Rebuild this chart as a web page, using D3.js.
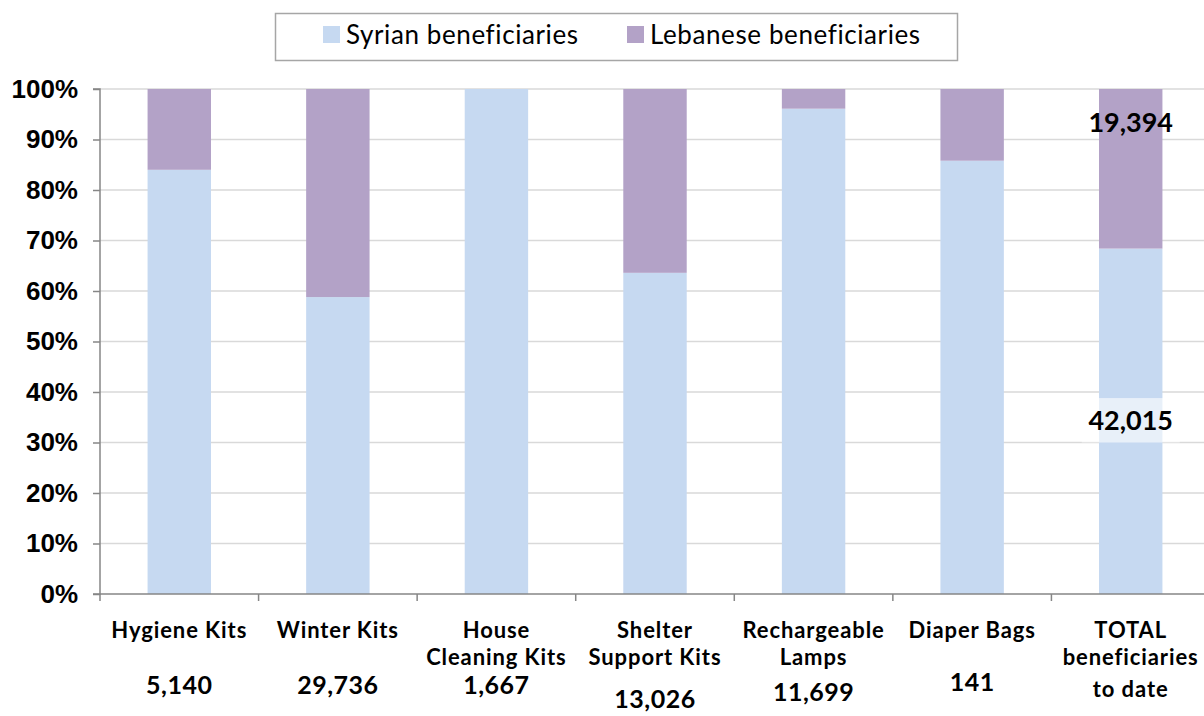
<!DOCTYPE html>
<html>
<head>
<meta charset="utf-8">
<script src="https://cdn.jsdelivr.net/npm/d3@7"></script>
<style>
  body { margin: 0; background: #fff; }
  svg { display: block; }
</style>
</head>
<body>
<script>
// data
let categories = ['Hygiene Kits', 'Winter Kits', 'House Cleaning Kits', 'Shelter Support Kits',
  'Rechargeable Lamps', 'Diaper Bags', 'TOTAL beneficiaries to date'];
let labelLines = [
  ['Hygiene Kits'],
  ['Winter Kits'],
  ['House', 'Cleaning Kits'],
  ['Shelter', 'Support Kits'],
  ['Rechargeable', 'Lamps'],
  ['Diaper Bags'],
  ['TOTAL', 'beneficiaries', 'to date']
];
let totals = ['5,140', '29,736', '1,667', '13,026', '11,699', '141', null];
let syrianShare = [0.84, 0.588, 1.0, 0.636, 0.961, 0.858, 0.684];
let lebaneseShare = syrianShare.map(d => 1 - d);
let totalSyrian = '42,015';
let totalLebanese = '19,394';
let series = ['Syrian beneficiaries', 'Lebanese beneficiaries'];
let colors = ['#c6d9f1', '#b3a2c7'];

let W = 1204, H = 716;
let margin = {left: 100, top: 89, right: -6, bottom: 122};
let width = W - margin.left - margin.right;
let height = H - margin.top - margin.bottom;

let svg = d3.select('body').append('svg')
  .attr('width', W)
  .attr('height', H);

let rows = categories.map((c, i) => ({cat: c, syr: syrianShare[i], leb: lebaneseShare[i]}));
let stack = d3.stack().keys(['syr', 'leb'])(rows);

let x = d3.scaleBand().domain(categories).range([0, width]).paddingInner(0.6).paddingOuter(0.3);
let y = d3.scaleLinear().domain([0, 1]).range([height, 0]);

let g = svg.append('g')
  .attr('transform', 'translate(' + margin.left + ',' + margin.top + ')');

// gridlines
g.append('g')
  .selectAll('line')
  .data(y.ticks(10).slice(1))
  .join('line')
  .attr('x1', 0)
  .attr('x2', width)
  .attr('y1', d => y(d))
  .attr('y2', d => y(d))
  .attr('stroke', '#d9d9d9')
  .attr('stroke-width', 1.5);

// bars
g.append('g')
  .selectAll('g')
  .data(stack)
  .join('g')
  .attr('fill', (d, i) => colors[i])
  .selectAll('rect')
  .data(d => d)
  .join('rect')
  .attr('x', d => x(d.data.cat))
  .attr('width', x.bandwidth())
  .attr('y', d => y(d[1]))
  .attr('height', d => y(d[0]) - y(d[1]));

// y axis
let yAxis = g.append('g')
  .call(d3.axisLeft(y).ticks(10, '.0%').tickSize(7).tickPadding(15));
yAxis.select('.domain').attr('stroke', '#868686').attr('stroke-width', 1.5)
  .attr('d', 'M-7,' + height + 'H0V0H-7');
yAxis.selectAll('.tick line').attr('stroke', '#868686').attr('stroke-width', 1.5);
yAxis.selectAll('.tick text')
  .attr('fill', '#000')
  .style('font-family', 'Liberation Sans, Arial, sans-serif')
  .style('font-weight', 'bold')
  .style('font-size', '26px');

// x axis with ticks between categories
let xg = g.append('g').attr('transform', 'translate(0,' + height + ')');
xg.append('line')
  .attr('x1', 0).attr('x2', width)
  .attr('stroke', '#868686').attr('stroke-width', 1.5);
xg.selectAll('.sep')
  .data(categories)
  .join('line')
  .attr('class', 'sep')
  .attr('x1', (d, i) => x.step() * i)
  .attr('x2', (d, i) => x.step() * i)
  .attr('y1', 0)
  .attr('y2', 7)
  .attr('stroke', '#868686').attr('stroke-width', 1.5);

let catFont = "Lato, 'Open Sans', sans-serif";
let lineBase = [44, 71, 103];
let numberBase = [100, 100, 100, 114, 107, 97];

categories.forEach((c, i) => {
  let cx = x(c) + x.bandwidth() / 2;
  labelLines[i].forEach((s, j) => {
    xg.append('text')
      .attr('x', cx)
      .attr('y', lineBase[j])
      .attr('text-anchor', 'middle')
      .style('font-family', catFont)
      .style('font-weight', 'bold')
      .style('font-size', '22px')
      .style('letter-spacing', '0.9px')
      .text(s);
  });
  if (totals[i]) {
    xg.append('text')
      .attr('x', cx)
      .attr('y', numberBase[i])
      .attr('text-anchor', 'middle')
      .style('font-family', catFont)
      .style('font-weight', 'bold')
      .style('font-size', '25px')
      .style('letter-spacing', '0.5px')
      .text(totals[i]);
  }
});

// value labels on the TOTAL bar
let last = categories[categories.length - 1];
let lx = x(last) + x.bandwidth() / 2;
g.append('rect')
  .attr('x', lx - 49)
  .attr('y', y(0.388))
  .attr('width', 98)
  .attr('height', y(0.30) - y(0.388))
  .attr('fill', '#fff')
  .attr('opacity', 0.6);
[[totalSyrian, 0.344], [totalLebanese, 0.935]].forEach(([t, v]) => {
  g.append('text')
    .attr('x', lx)
    .attr('y', y(v))
    .attr('dy', '0.36em')
    .attr('text-anchor', 'middle')
    .style('font-family', catFont)
    .style('font-weight', 'bold')
    .style('font-size', '27px')
    .text(t);
});

// legend
let legend = svg.append('g');
legend.append('rect')
  .attr('x', 275.5).attr('y', 13.5)
  .attr('width', 682).attr('height', 47)
  .attr('fill', '#fff')
  .attr('stroke', '#a6a6a6')
  .attr('stroke-width', 1.5);
let lx0 = [323, 627];
series.forEach((s, i) => {
  legend.append('rect')
    .attr('x', lx0[i]).attr('y', 26)
    .attr('width', 17).attr('height', 17)
    .attr('fill', colors[i]);
  legend.append('text')
    .attr('x', lx0[i] + 23)
    .attr('y', 44)
    .style('font-family', catFont)
    .style('font-size', '26px')
    .style('letter-spacing', '0.6px')
    .text(s);
});
</script>
</body>
</html>
